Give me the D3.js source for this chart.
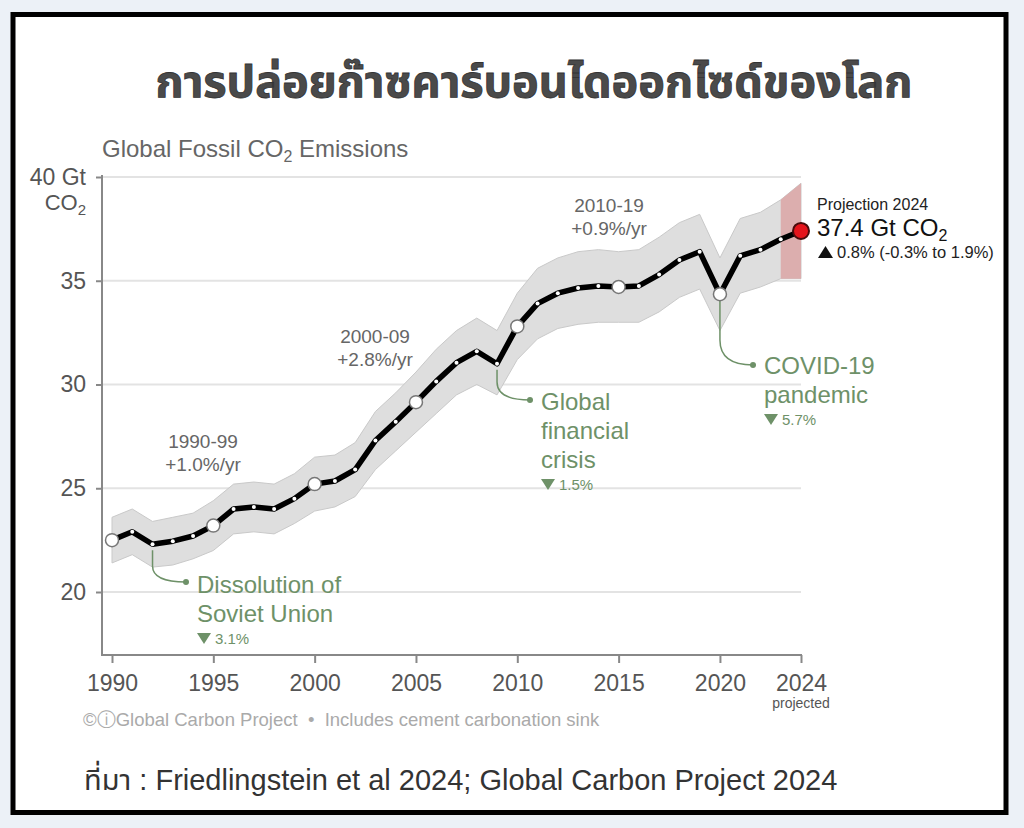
<!DOCTYPE html>
<html>
<head>
<meta charset="utf-8">
<script src="https://cdnjs.cloudflare.com/ajax/libs/d3/7.8.5/d3.min.js"></script>
<style>
body{margin:0;background:#ecf1f7;}
text{font-family:"Liberation Sans", Arial, Helvetica, sans-serif;}
.tick text{fill:#555;}
.tick line{stroke:#888;stroke-width:2;}
</style>
</head>
<body>
<script>
// --- data (Gt CO2) ---
const years = [1990,1991,1992,1993,1994,1995,1996,1997,1998,1999,
               2000,2001,2002,2003,2004,2005,2006,2007,2008,2009,
               2010,2011,2012,2013,2014,2015,2016,2017,2018,2019,
               2020,2021,2022,2023,2024];
const emissions = [22.5,22.9,22.3,22.45,22.7,23.2,24.0,24.1,24.0,24.5,
                   25.2,25.35,25.9,27.3,28.2,29.15,30.15,31.05,31.6,31.0,
                   32.8,33.9,34.4,34.65,34.75,34.7,34.75,35.3,36.0,36.4,
                   34.35,36.2,36.5,37.0,37.4];
const upper = [23.6,24.0,23.4,23.6,23.8,24.4,25.2,25.3,25.2,25.7,
               26.5,26.6,27.2,28.7,29.6,30.6,31.7,32.6,33.2,32.6,
               34.4,35.6,36.1,36.4,36.5,36.4,36.5,37.1,37.8,38.2,
               36.1,38.0,38.3,38.9,39.7];
const lower = [21.4,21.8,21.2,21.3,21.6,22.0,22.8,22.9,22.8,23.3,
               23.9,24.1,24.6,25.9,26.8,27.7,28.6,29.5,30.0,29.5,
               31.2,32.2,32.7,32.9,33.0,33.0,33.0,33.5,34.2,34.6,
               32.6,34.4,34.7,35.1,35.1];
const circleYears = [1990,1995,2000,2005,2010,2015,2020];
const yTicks = [20,25,30,35,40];
const xTicks = [1990,1995,2000,2005,2010,2015,2020,2024];
const decadeLabels = ["1990-99","2000-09","2010-19"];
const decadeRates = ["+1.0%/yr","+2.8%/yr","+0.9%/yr"];
const eventYears = [1992,2009,2020];
const eventLines = [["Dissolution of","Soviet Union"],["Global","financial","crisis"],["COVID-19","pandemic"]];
const eventDrops = ["3.1%","1.5%","5.7%"];

// --- layout ---
const W = 1024, H = 828;
const axisLeftX = 102, axisBottomY = 655;
const green = "#6e9168";
const decadePos = [[203,448],[375,343],[609,212]];
const eventText = [[197,593],[541,410],[764,374]];
const eventDot = [[186,582],[530,400],[753,365]];
const eventBend = [566,382,340];

const svg = d3.select("body").append("svg")
  .attr("width", W)
  .attr("height", H);

svg.append("rect")
  .attr("x", 13).attr("y", 14.5)
  .attr("width", 993).attr("height", 798)
  .attr("fill", "#fff")
  .attr("stroke", "#000")
  .attr("stroke-width", 5);

const x = d3.scaleLinear().domain([1990, 2024]).range([112, 801]);
const y = d3.scaleLinear().domain([20, 40]).range([592, 177]);

// title
svg.append("text")
  .attr("x", 534).attr("y", 97)
  .style("text-anchor", "middle")
  .style("font-family", "'Noto Sans Thai', 'Noto Sans', sans-serif")
  .style("font-size", "45px")
  .style("font-weight", 700)
  .style("fill", "#4a4a4a")
  .style("stroke", "#333")
  .style("stroke-width", 0.8)
  .text("การปล่อยก๊าซคาร์บอนไดออกไซด์ของโลก");

// subtitle
const sub = svg.append("text")
  .attr("x", 102).attr("y", 157)
  .style("font-size", "24px")
  .style("fill", "#666");
sub.append("tspan").text("Global Fossil CO");
sub.append("tspan").attr("dy", 5).style("font-size", "16px").text("2");
sub.append("tspan").attr("dy", -5).text(" Emissions");

// gridlines
svg.selectAll("line.grid")
  .data(yTicks)
  .enter()
  .append("line")
  .attr("class", "grid")
  .attr("x1", axisLeftX).attr("x2", x(2024))
  .attr("y1", d => y(d)).attr("y2", d => y(d))
  .style("stroke", "#e3e3e3")
  .style("stroke-width", 2);

// y axis
const yAxis = svg.append("g")
  .attr("transform", `translate(${axisLeftX},0)`)
  .call(d3.axisLeft(y).tickValues(yTicks).tickSize(6).tickPadding(10)
    .tickFormat(d => d === 40 ? "40 Gt" : d));
yAxis.select(".domain").remove();
yAxis.selectAll(".tick text").style("font-size", "23px");
const co2 = svg.append("text")
  .attr("x", axisLeftX - 16).attr("y", y(40) + 33)
  .style("text-anchor", "end")
  .style("font-size", "22px")
  .style("fill", "#555");
co2.append("tspan").text("CO");
co2.append("tspan").attr("dy", 5).style("font-size", "15px").text("2");

svg.append("line")
  .attr("x1", axisLeftX).attr("x2", axisLeftX)
  .attr("y1", y(40.1)).attr("y2", axisBottomY + 1)
  .style("stroke", "#888").style("stroke-width", 2);

// x axis
const xAxis = svg.append("g")
  .attr("transform", `translate(0,${axisBottomY})`)
  .call(d3.axisBottom(x).tickValues(xTicks).tickSize(8).tickPadding(12)
    .tickFormat(d3.format("d")));
xAxis.select(".domain").remove();
xAxis.selectAll(".tick text").style("font-size", "23px");
svg.append("line")
  .attr("x1", axisLeftX).attr("x2", x(2024) + 1)
  .attr("y1", axisBottomY).attr("y2", axisBottomY)
  .style("stroke", "#888").style("stroke-width", 2);
svg.append("text")
  .attr("x", x(2024)).attr("y", 708)
  .style("text-anchor", "middle")
  .style("font-size", "14px")
  .style("fill", "#555")
  .text("projected");

// uncertainty band
const idx = years.map((d, i) => i);
const band = d3.area()
  .x(i => x(years[i]))
  .y0(i => y(lower[i]))
  .y1(i => y(upper[i]));
svg.append("path")
  .datum(idx)
  .attr("d", band)
  .style("fill", "#dedede")
  .style("stroke", "#c9c9c9")
  .style("stroke-width", 1);
svg.append("path")
  .datum(idx.slice(-2))
  .attr("d", band)
  .style("fill", "#dcaeae");

// leaders for events
eventYears.forEach((yr, k) => {
  const i = years.indexOf(yr);
  const x0 = x(yr), y0 = y(emissions[i]) + 6;
  const [dx, dy] = eventDot[k];
  svg.append("path")
    .attr("d", `M${x0},${y0} L${x0},${eventBend[k]} Q${x0},${dy} ${dx},${dy}`)
    .style("fill", "none")
    .style("stroke", green)
    .style("stroke-width", 1.5);
  svg.append("circle")
    .attr("cx", dx).attr("cy", dy).attr("r", 3)
    .style("fill", green);
});

// emissions line
const line = d3.line()
  .x((d, i) => x(years[i]))
  .y(d => y(d));
svg.append("path")
  .datum(emissions)
  .attr("d", line)
  .style("fill", "none")
  .style("stroke", "#000")
  .style("stroke-width", 5.5)
  .style("stroke-linejoin", "round");

svg.selectAll("circle.dot")
  .data(years.slice(0, -1).filter(d => !circleYears.includes(d)))
  .enter()
  .append("circle")
  .attr("class", "dot")
  .attr("cx", d => x(d))
  .attr("cy", d => y(emissions[years.indexOf(d)]))
  .attr("r", 2)
  .style("fill", "#fff");

svg.selectAll("circle.big")
  .data(circleYears)
  .enter()
  .append("circle")
  .attr("class", "big")
  .attr("cx", d => x(d))
  .attr("cy", d => y(emissions[years.indexOf(d)]))
  .attr("r", 6.5)
  .style("fill", "#fff")
  .style("stroke", "#777")
  .style("stroke-width", 1.5);

svg.append("circle")
  .attr("cx", x(2024))
  .attr("cy", y(emissions[emissions.length - 1]))
  .attr("r", 8)
  .style("fill", "#e5141b")
  .style("stroke", "#4a0c0c")
  .style("stroke-width", 2);

// decade labels
decadeLabels.forEach((lab, k) => {
  const [cx, cy] = decadePos[k];
  svg.append("text")
    .attr("x", cx).attr("y", cy)
    .style("text-anchor", "middle")
    .style("font-size", "19px")
    .style("fill", "#666")
    .text(lab);
  svg.append("text")
    .attr("x", cx).attr("y", cy + 23)
    .style("text-anchor", "middle")
    .style("font-size", "19px")
    .style("fill", "#666")
    .text(decadeRates[k]);
});

// event labels
eventLines.forEach((lines, k) => {
  const [tx, ty] = eventText[k];
  lines.forEach((l, j) => {
    svg.append("text")
      .attr("x", tx).attr("y", ty + j * 29)
      .style("font-size", "24px")
      .style("fill", green)
      .text(l);
  });
  const dyDrop = ty + (lines.length - 1) * 29 + 22;
  svg.append("path")
    .attr("d", `M${tx},${dyDrop - 11} L${tx + 14},${dyDrop - 11} L${tx + 7},${dyDrop}Z`)
    .style("fill", green);
  svg.append("text")
    .attr("x", tx + 18).attr("y", dyDrop)
    .style("font-size", "15px")
    .style("fill", green)
    .text(eventDrops[k]);
});

// projection labels
svg.append("text")
  .attr("x", 817).attr("y", 210)
  .style("font-size", "16px")
  .style("fill", "#222")
  .text("Projection 2024");
const proj = svg.append("text")
  .attr("x", 817).attr("y", 236)
  .style("font-size", "24px")
  .style("fill", "#111");
proj.append("tspan").text("37.4 Gt CO");
proj.append("tspan").attr("dy", 5).style("font-size", "16px").text("2");
svg.append("path")
  .attr("d", "M818,258 L833,258 L825.5,246Z")
  .style("fill", "#111");
svg.append("text")
  .attr("x", 837).attr("y", 258)
  .style("font-size", "16.5px")
  .style("fill", "#222")
  .text("0.8% (-0.3% to 1.9%)");

// credits
svg.append("text")
  .attr("x", 83).attr("y", 726)
  .style("font-size", "18.5px")
  .style("fill", "#aaa")
  .text("©ⓘGlobal Carbon Project\u00a0\u00a0•\u00a0\u00a0Includes cement carbonation sink");

svg.append("text")
  .attr("x", 84).attr("y", 790)
  .style("font-family", "'Liberation Sans', 'Noto Sans Thai', sans-serif")
  .style("font-size", "29px")
  .style("fill", "#333")
  .text("ที่มา : Friedlingstein et al 2024; Global Carbon Project 2024");
</script>
</body>
</html>
